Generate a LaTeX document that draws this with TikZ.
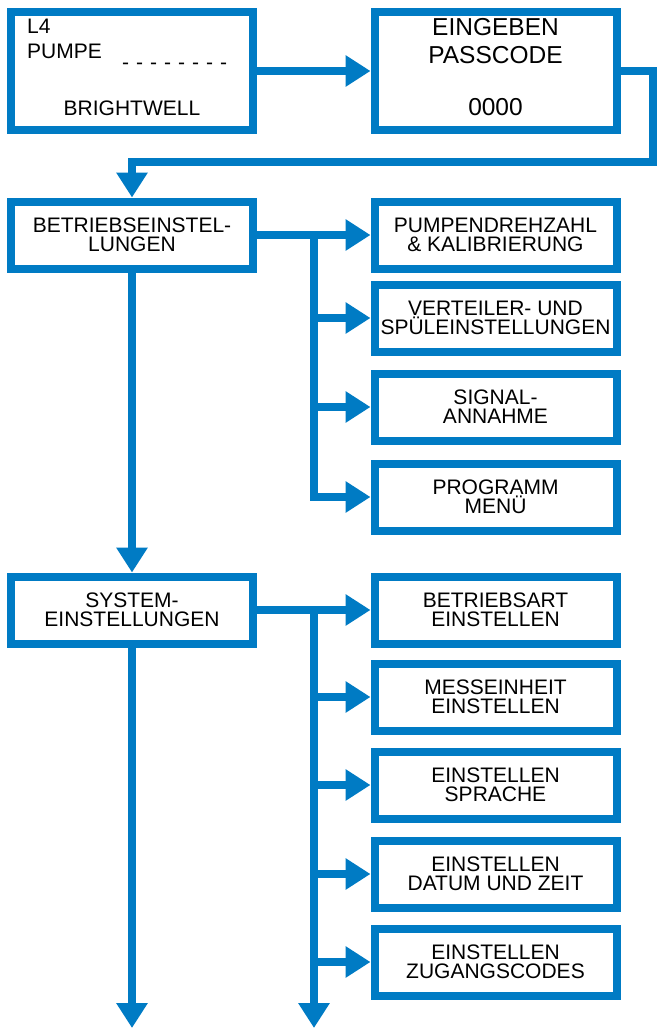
\documentclass[tikz,border=0pt]{standalone}
\usepackage{fontspec}
\setmainfont{Liberation Sans}
\usetikzlibrary{arrows.meta}
\definecolor{flowblue}{RGB}{0,123,196}

\begin{document}
\begin{tikzpicture}[
    x=1pt, y=-1pt,
    menubox/.style={draw=flowblue, line width=8pt, minimum width=242pt, minimum height=67pt,
      inner sep=0pt, align=center, font=\fontsize{21}{19}\selectfont},
    screenbox/.style={menubox, minimum height=118pt},
    screentext/.style={inner sep=0pt, font=\fontsize{21}{19}\selectfont},
    codetext/.style={inner sep=0pt, font=\fontsize{24.5}{22}\selectfont},
    flow/.style={draw=flowblue, line width=8pt, -{Triangle[length=25pt,width=30pt]}}
  ]
    \useasboundingbox (0,0) rectangle (657,1029);

    % Display screens
    \node[screenbox] (start) at (132,71) {};
    \node[screenbox] (code) at (495.5,71) {};
    \node[screentext, anchor=base west] (model) at (27,33) {L4};
    \node[screentext, anchor=base west] (pump) at (27,58) {PUMPE};
    \node[screentext, anchor=base west] (dashes) at (122,69) {\spaceskip=7pt\relax - - - - - - - -};
    \node[screentext, anchor=base] (brand) at (132,115) {BRIGHTWELL};
    \node[codetext, anchor=base] (enter) at (495.5,35) {EINGEBEN};
    \node[codetext, anchor=base] (pass) at (495.5,63) {PASSCODE};
    \node[codetext, anchor=base] (zeros) at (495.5,115) {0000};

    % Main menu
    \node[menubox] (betr) at (132,235) {BETRIEBSEINSTEL-\\LUNGEN};
    \node[menubox] (sys) at (132,610) {SYSTEM-\\EINSTELLUNGEN};

    % Operating settings submenu
    \foreach \i/\y/\txt in {1/235/{PUMPENDREHZAHL\\\& KALIBRIERUNG},
                             2/318/{VERTEILER- UND\\SPÜLEINSTELLUNGEN},
                             3/407/{SIGNAL-\\ANNAHME},
                             4/497/{PROGRAMM\\MENÜ}}
      \node[menubox] (betr\i) at (495.5,\y) {\txt};

    % System settings submenu
    \foreach \i/\y/\txt in {1/610/{BETRIEBSART\\EINSTELLEN},
                             2/697/{MESSEINHEIT\\EINSTELLEN},
                             3/785/{EINSTELLEN\\SPRACHE},
                             4/874/{EINSTELLEN\\DATUM UND ZEIT},
                             5/962/{EINSTELLEN\\ZUGANGSCODES}}
      \node[menubox] (sys\i) at (495.5,\y) {\txt};

    % Connections
    \coordinate (turn) at (653,162);
    \coordinate (bsplit) at (314,235);
    \coordinate (ssplit) at (314,610);
    \coordinate (mainend) at (132,1028);
    \coordinate (subend) at (314,1028);

    \draw[flow] (start.east) -- (code.west);
    \draw[flow] (code.east) -| (turn) -| (betr.north);

    \draw[flow] (betr.east) -- (betr1.west);
    \foreach \i in {2,3,4}
      \draw[flow] (bsplit) |- (betr\i.west);
    \draw[flow] (betr.south) -- (sys.north);

    \draw[flow] (sys.east) -- (sys1.west);
    \foreach \i in {2,3,4,5}
      \draw[flow] (ssplit) |- (sys\i.west);
    \draw[flow] (ssplit) -- (subend);
    \draw[flow] (sys.south) -- (mainend);

  \end{tikzpicture}
\end{document}
